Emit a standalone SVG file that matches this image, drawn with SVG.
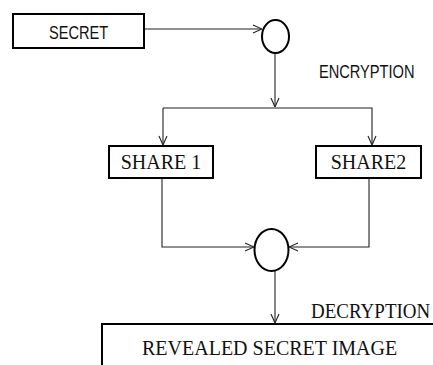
<svg xmlns="http://www.w3.org/2000/svg" width="433" height="365" viewBox="0 0 433 365">
<style>
.box{fill:#fff;stroke:#000;stroke-width:2}
.circ{fill:#fff;stroke:#000;stroke-width:2}
.conn{fill:none;stroke:#222;stroke-width:1.1}
.sans{font-family:"Liberation Sans",Arial,sans-serif;font-size:18.5px;fill:#111}
.serif{font-family:"Liberation Serif","Times New Roman",serif;font-size:20px;fill:#111}
</style>
<defs>
<marker id="arr" viewBox="0 0 10 10" refX="10" refY="5" markerWidth="10" markerHeight="10" markerUnits="userSpaceOnUse" orient="auto">
<path d="M1,1 L10,5 L1,9" fill="none" stroke="#222" stroke-width="1.1"/>
</marker>
</defs>
<g id="connectors">
<path class="conn" d="M144,29 H262" marker-end="url(#arr)"/>
<path class="conn" d="M275,53 V107" marker-end="url(#arr)"/>
<path class="conn" d="M163,108 H372 V145" marker-end="url(#arr)"/>
<path class="conn" d="M163,108 V145" marker-end="url(#arr)"/>
<path class="conn" d="M162,178 V247 H254" marker-end="url(#arr)"/>
<path class="conn" d="M369,178 V247 H289" marker-end="url(#arr)"/>
<path class="conn" d="M275,271 V323" marker-end="url(#arr)"/>
</g>
<g id="secret">
<rect class="box" x="13" y="14" width="131" height="34"/>
<text class="sans" transform="translate(49,39) scale(0.79,1)">SECRET</text>
</g>
<g id="encrypt-node">
<ellipse class="circ" cx="275.5" cy="36.5" rx="13.5" ry="16.5"/>
</g>
<g id="encryption-label">
<text class="sans" transform="translate(319,78) scale(0.79,1)">ENCRYPTION</text>
</g>
<g id="share1">
<rect class="box" x="109" y="146" width="104" height="32"/>
<text class="serif" x="161" y="169" text-anchor="middle">SHARE 1</text>
</g>
<g id="share2">
<rect class="box" x="316" y="146" width="105" height="32"/>
<text class="serif" x="368.5" y="169" text-anchor="middle">SHARE2</text>
</g>
<g id="decrypt-node">
<ellipse class="circ" cx="271.5" cy="250" rx="17" ry="21"/>
</g>
<g id="decryption-label">
<text class="serif" transform="translate(311,318) scale(0.95,1)">DECRYPTION</text>
</g>
<g id="revealed">
<rect class="box" x="102" y="324" width="345" height="60"/>
<text class="serif" x="142" y="355">REVEALED SECRET IMAGE</text>
</g>
</svg>
